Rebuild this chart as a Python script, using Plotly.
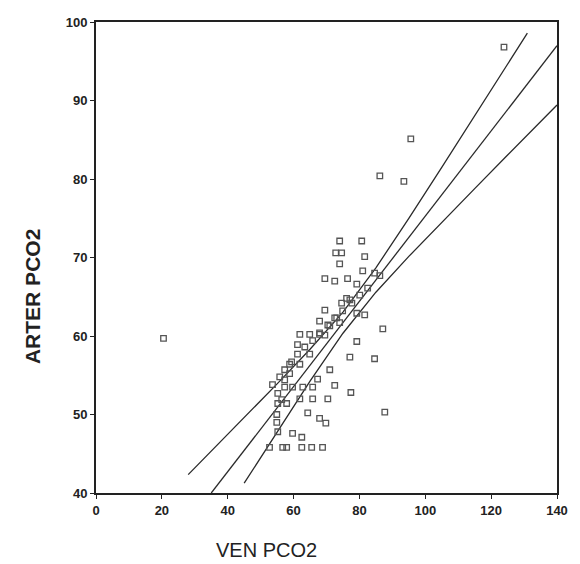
import plotly.graph_objects as go

# Scatter data (VEN PCO2 vs ARTER PCO2)
ven_outliers = [20.5, 123.9, 95.6, 86.2, 93.5, 87.7]
art_outliers = [59.7, 96.8, 85.1, 80.4, 79.7, 50.3]

ven_upper = [74.0, 80.7, 72.8, 74.6, 81.6, 74.0, 81.0, 69.5, 72.5, 76.4, 79.2, 84.6, 86.2]
art_upper = [72.1, 72.1, 70.6, 70.6, 70.1, 69.2, 68.3, 67.3, 67.0, 67.3, 66.6, 68.0, 67.7]

ven_mid = [76.1, 74.6, 77.1, 69.5, 79.2, 81.6, 67.9, 71.0, 74.0, 73.1, 61.9, 64.9, 67.9,
           69.5, 87.1, 61.2, 79.2, 77.1, 84.6, 71.0, 64.9, 58.8]
art_mid = [64.8, 64.2, 64.6, 63.3, 62.9, 62.7, 61.9, 61.3, 61.7, 62.3, 60.2, 60.2, 60.2,
           60.1, 60.9, 58.9, 59.3, 57.3, 57.1, 55.7, 57.7, 56.4]

ven_low = [53.6, 57.3, 59.7, 62.8, 65.8, 72.5, 77.4, 61.9, 65.8, 70.4, 55.2, 57.9, 64.3,
           67.9, 69.8, 54.9, 54.9, 55.2, 59.7, 62.5, 52.7, 56.7, 57.9, 62.5, 65.5, 68.8]
art_low = [53.8, 53.5, 53.5, 53.5, 53.5, 53.7, 52.8, 52.0, 52.0, 52.0, 51.4, 51.4, 50.2,
           49.5, 48.9, 50.0, 49.0, 47.8, 47.6, 47.1, 45.8, 45.8, 45.8, 45.8, 45.8, 45.8]

ven_dense = [55.8, 57.3, 59.4, 61.2, 63.4, 65.8, 67.9, 70.4, 72.5, 74.9, 77.7, 80.1, 82.5,
             57.3, 58.8, 61.9, 55.2, 56.4, 67.3]
art_dense = [54.8, 55.7, 56.7, 57.7, 58.6, 59.4, 60.4, 61.4, 62.3, 63.2, 64.2, 65.2, 66.1,
             54.4, 55.2, 56.4, 52.7, 51.9, 54.5]

# Fit line and confidence band
fit_x = [35, 45, 55, 65, 75, 85, 95, 105, 115, 125, 135, 140]
fit_y = [40.0, 45.42, 50.85, 56.28, 61.70, 67.13, 72.56, 77.98, 83.41, 88.84, 94.26, 96.98]

up_x = [28, 35, 45, 55, 65, 75, 85, 95, 105, 115, 125, 131]
up_y = [42.34, 45.32, 49.59, 53.90, 58.31, 63.05, 68.68, 74.98, 81.47, 88.04, 94.63, 98.58]

lo_x = [45, 55, 65, 75, 85, 95, 105, 115, 125, 135, 140]
lo_y = [41.25, 47.80, 54.25, 60.35, 65.58, 70.14, 74.49, 78.78, 83.05, 87.30, 89.43]

x_ticks = [0, 20, 40, 60, 80, 100, 120, 140]
y_ticks = [40, 50, 60, 70, 80, 90, 100]

ven = ven_outliers + ven_upper + ven_mid + ven_low + ven_dense
art = art_outliers + art_upper + art_mid + art_low + art_dense

fig = go.Figure()
line_style = dict(color="#2a2a2a", width=1.3)
for lx, ly in [(up_x, up_y), (fit_x, fit_y), (lo_x, lo_y)]:
    fig.add_trace(go.Scatter(x=lx, y=ly, mode="lines", line=line_style,
                             hoverinfo="skip", showlegend=False))

fig.add_trace(go.Scatter(
    x=ven, y=art, mode="markers",
    marker=dict(symbol="square-open", size=5.5, color="#555555",
                line=dict(width=1.3, color="#555555")),
    showlegend=False, cliponaxis=False))

axis_common = dict(showline=True, linecolor="#222222", linewidth=2, mirror=True,
                   showgrid=False, zeroline=False, ticks="outside", ticklen=4,
                   tickcolor="#222222", tickwidth=1,
                   tickfont=dict(family="Arial", size=13, color="#222222"))

fig.update_xaxes(range=[0, 140], tickvals=x_ticks,
                 ticktext=["<b>%d</b>" % v for v in x_ticks], **axis_common)
fig.update_yaxes(range=[40, 100], tickvals=y_ticks,
                 ticktext=["<b>%d</b>" % v for v in y_ticks], **axis_common)

# page body has an 8px default margin, so the figure is sized to fit the window
fig.update_layout(
    width=572, height=556,
    margin=dict(l=88, r=23, t=7, b=71),
    paper_bgcolor="white", plot_bgcolor="white",
    annotations=[
        dict(text="VEN PCO2", xref="paper", yref="paper", x=0.369, y=-0.12,
             xanchor="center", yanchor="middle", showarrow=False,
             font=dict(family="Arial", size=20, color="#222222")),
        dict(text="<b>ARTER PCO2</b>", xref="paper", yref="paper", x=-0.139, y=0.418,
             xanchor="center", yanchor="middle", showarrow=False, textangle=-90,
             font=dict(family="Arial", size=21, color="#222222")),
    ],
)

fig.write_html("out.html")
